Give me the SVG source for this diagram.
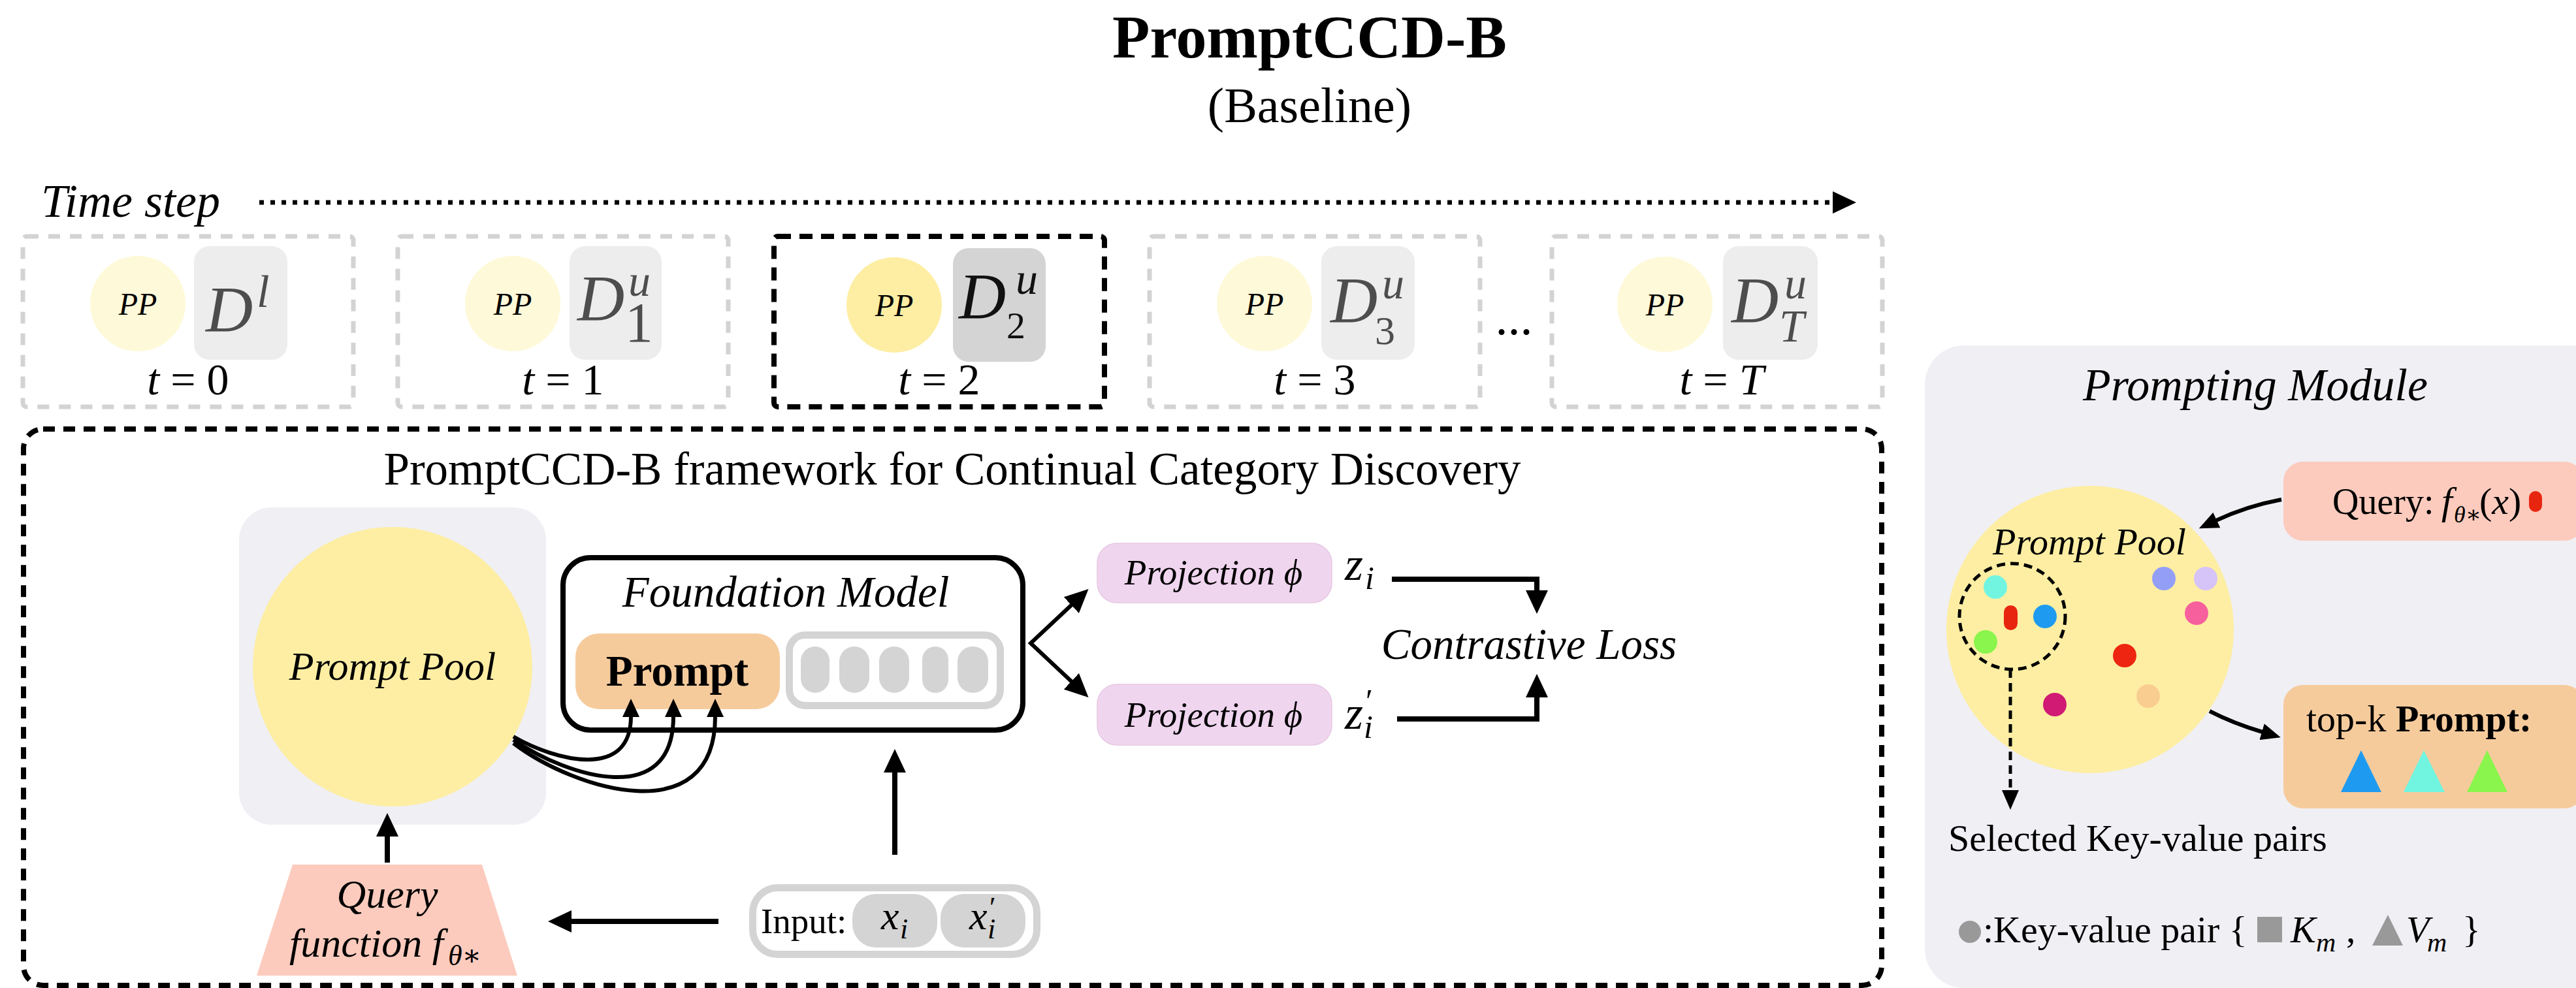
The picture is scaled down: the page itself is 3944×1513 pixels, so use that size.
<svg xmlns="http://www.w3.org/2000/svg" width="3944" height="1513" viewBox="0 0 3944 1513">
  <style>
    text { font-family: "Liberation Serif", "Times New Roman", "DejaVu Serif", serif; fill: #000; }
    .it { font-style: italic; }
    .up { font-style: normal; }
    .b { font-weight: bold; }
    .mid { text-anchor: middle; }
    .stepbox { fill: none; stroke: #d3d3d3; stroke-width: 7; stroke-dasharray: 18 15; }
    .stepbox.cur { stroke: #000; stroke-width: 8; stroke-dasharray: 20 13; }
    .pp { fill: #fef9d8; }
    .pp.cur { fill: #fdeea3; }
    .dbox { fill: #ededed; }
    .dbox.cur { fill: #d4d4d4; }
    .dsym { fill: #4d4d4d; }
    .dsym.cur { fill: #111; }
    .conn { fill: none; stroke: #000; stroke-width: 8; }
    .thin { fill: none; stroke: #000; stroke-width: 6; }
    .pill { fill: #d4d4d4; }
  </style>
  <defs>
    <marker id="ah" viewBox="0 0 36 34" markerWidth="36" markerHeight="34" refX="1" refY="17" orient="auto" markerUnits="userSpaceOnUse">
      <path d="M0,0 L36,17 L0,34 z" fill="#000"/>
    </marker>
    <marker id="ah2" viewBox="0 0 36 34" markerWidth="36" markerHeight="34" refX="1" refY="17" orient="auto-start-reverse" markerUnits="userSpaceOnUse">
      <path d="M0,0 L36,17 L0,34 z" fill="#000"/>
    </marker>
    <marker id="ahs" viewBox="0 0 28 26" markerWidth="28" markerHeight="26" refX="1" refY="13" orient="auto" markerUnits="userSpaceOnUse">
      <path d="M0,0 L28,13 L0,26 z" fill="#000"/>
    </marker>
    <marker id="ahm" viewBox="0 0 30 26" markerWidth="30" markerHeight="26" refX="1" refY="13" orient="auto" markerUnits="userSpaceOnUse">
      <path d="M0,0 L30,13 L0,26 z" fill="#000"/>
    </marker>
  </defs>

  <!-- heading -->
  <g id="heading">
    <text class="b mid" x="2005" y="88" font-size="94">PromptCCD-B</text>
    <text class="mid" x="2005" y="187" font-size="76">(Baseline)</text>
  </g>

  <!-- time axis -->
  <g id="timeline">
    <text class="it" x="63" y="332" font-size="72">Time step</text>
    <path d="M397,310 L2807,310" fill="none" stroke="#000" stroke-width="7" stroke-dasharray="7 10" marker-end="url(#ah)"/>
    <text class="mid" x="2318" y="512" font-size="76">...</text>
  </g>

  <!-- time step t=0 -->
  <g id="step0">
    <rect class="stepbox" x="35" y="362" width="506" height="261" rx="6"/>
    <circle class="pp" cx="211" cy="465" r="73"/>
    <text class="it mid" x="211" y="482" font-size="48">PP</text>
    <rect class="dbox" x="297" y="377" width="143" height="174" rx="24"/>
    <text class="it dsym" x="315" y="507" font-size="100">D<tspan x="393" y="470" font-size="70">l</tspan></text>
    <text class="mid" x="288" y="604" font-size="68"><tspan class="it">t</tspan> = 0</text>
  </g>

  <!-- time step t=1 -->
  <g id="step1">
    <rect class="stepbox" x="609" y="362" width="506" height="261" rx="6"/>
    <circle class="pp" cx="785" cy="465" r="73"/>
    <text class="it mid" x="785" y="482" font-size="48">PP</text>
    <rect class="dbox" x="872" y="377" width="141" height="174" rx="24"/>
    <text class="it dsym" x="884" y="490" font-size="100">D<tspan x="962" y="453" font-size="68">u</tspan><tspan class="up" x="957" y="523" font-size="86">1</tspan></text>
    <text class="mid" x="862" y="604" font-size="68"><tspan class="it">t</tspan> = 1</text>
  </g>

  <!-- time step t=2 (current) -->
  <g id="step2">
    <rect class="stepbox cur" x="1185" y="362" width="506" height="261" rx="6"/>
    <circle class="pp cur" cx="1369" cy="467" r="73"/>
    <text class="it mid" x="1369" y="484" font-size="48">PP</text>
    <rect class="dbox cur" x="1459" y="380" width="142" height="174" rx="24"/>
    <text class="it dsym cur" x="1468" y="487" font-size="100">D<tspan x="1555" y="450" font-size="68">u</tspan><tspan class="up" x="1541" y="518" font-size="58">2</tspan></text>
    <text class="mid" x="1438" y="604" font-size="68"><tspan class="it">t</tspan> = 2</text>
  </g>

  <!-- time step t=3 -->
  <g id="step3">
    <rect class="stepbox" x="1760" y="362" width="506" height="261" rx="6"/>
    <circle class="pp" cx="1936" cy="465" r="73"/>
    <text class="it mid" x="1936" y="482" font-size="48">PP</text>
    <rect class="dbox" x="2023" y="377" width="143" height="174" rx="24"/>
    <text class="it dsym" x="2037" y="493" font-size="100">D<tspan x="2116" y="457" font-size="68">u</tspan><tspan class="up" x="2105" y="527" font-size="62">3</tspan></text>
    <text class="mid" x="2013" y="604" font-size="68"><tspan class="it">t</tspan> = 3</text>
  </g>

  <!-- time step t=T -->
  <g id="stepT">
    <rect class="stepbox" x="2376" y="362" width="506" height="261" rx="6"/>
    <circle class="pp" cx="2549" cy="466" r="73"/>
    <text class="it mid" x="2549" y="483" font-size="48">PP</text>
    <rect class="dbox" x="2638" y="377" width="145" height="174" rx="24"/>
    <text class="it dsym" x="2651" y="493" font-size="100">D<tspan x="2732" y="457" font-size="68">u</tspan><tspan x="2724" y="523" font-size="69">T</tspan></text>
    <text class="mid" x="2636" y="604" font-size="68"><tspan class="it">t</tspan> = <tspan class="it">T</tspan></text>
  </g>

  <!-- framework frame -->
  <g id="framework">
    <rect x="36" y="657" width="2845" height="852" rx="30" fill="none" stroke="#000" stroke-width="8" stroke-dasharray="18 13"/>
    <text class="mid" x="1458" y="742" font-size="71">PromptCCD-B framework for Continual Category Discovery</text>
  </g>

  <!-- prompt pool -->
  <g id="prompt-pool">
    <rect x="366" y="777" width="470" height="486" rx="50" fill="#f0eff4"/>
    <circle cx="601" cy="1021" r="214" fill="#fdeea3"/>
    <text class="it mid" x="601" y="1041" font-size="62">Prompt Pool</text>
  </g>

  <!-- query function -->
  <g id="query-function">
    <path d="M448,1324 L738,1324 L792,1494 L393,1494 z" fill="#fccbbd"/>
    <text class="it mid" x="593" y="1390" font-size="62">Query</text>
    <text class="it" x="443" y="1465" font-size="62">function f<tspan x="686" y="1478" font-size="44">θ∗</tspan></text>
  </g>

  <!-- foundation model -->
  <g id="foundation-model">
    <rect x="862" y="854" width="704" height="264" rx="42" fill="#fff" stroke="#000" stroke-width="8"/>
    <text class="it mid" x="1203" y="929" font-size="67">Foundation Model</text>
    <rect x="881" y="970" width="313" height="116" rx="36" fill="#f6cb9c"/>
    <text class="b mid" x="1037" y="1050" font-size="67">Prompt</text>
    <rect x="1208.5" y="972.5" width="323" height="108" rx="24" fill="#fff" stroke="#d4d4d4" stroke-width="11"/>
    <rect class="pill" x="1226" y="990" width="44" height="71" rx="22"/>
    <rect class="pill" x="1285" y="990" width="46" height="71" rx="23"/>
    <rect class="pill" x="1346" y="990" width="46" height="71" rx="23"/>
    <rect class="pill" x="1412" y="990" width="40" height="71" rx="20"/>
    <rect class="pill" x="1466" y="990" width="47" height="71" rx="23"/>
  </g>

  <!-- input -->
  <g id="input">
    <rect x="1152.5" y="1359.5" width="435" height="102" rx="38" fill="#fff" stroke="#d4d4d4" stroke-width="11"/>
    <text x="1165" y="1429" font-size="55">Input:</text>
    <rect class="pill" x="1305" y="1369" width="130" height="82" rx="36"/>
    <rect class="pill" x="1440" y="1369" width="130" height="82" rx="36"/>
    <text class="it" x="1349" y="1423" font-size="62">x<tspan x="1378" y="1437" font-size="44">i</tspan></text>
    <text class="it" x="1484" y="1423" font-size="62">x<tspan class="up" x="1515" y="1404" font-size="44">′</tspan><tspan x="1512" y="1437" font-size="44">i</tspan></text>
  </g>

  <!-- projection heads -->
  <g id="projection-1">
    <rect x="1680" y="832" width="359" height="91" rx="30" fill="#f0d5ef" stroke="#e6c8e4" stroke-width="1.5"/>
    <text class="it mid" x="1858" y="895" font-size="55">Projection ϕ</text>
    <text class="it" x="2059" y="888" font-size="72">z<tspan x="2090" y="902" font-size="50">i</tspan></text>
  </g>
  <g id="projection-2">
    <rect x="1680" y="1048" width="359" height="93" rx="30" fill="#f0d5ef" stroke="#e6c8e4" stroke-width="1.5"/>
    <text class="it mid" x="1858" y="1113" font-size="55">Projection ϕ</text>
    <text class="it" x="2059" y="1116" font-size="72">z<tspan class="up" x="2091" y="1090" font-size="50">′</tspan><tspan x="2088" y="1130" font-size="50">i</tspan></text>
  </g>

  <!-- loss -->
  <g id="contrastive-loss">
    <text class="it mid" x="2341" y="1009" font-size="67">Contrastive Loss</text>
  </g>

  <!-- connectors of the framework -->
  <g id="connectors">
    <path class="conn" d="M1100,1411 L874,1411" marker-end="url(#ah)"/>
    <path class="conn" d="M593,1321 L593,1280" marker-end="url(#ah)"/>
    <path class="conn" d="M1370,1309 L1370,1182" marker-end="url(#ah)"/>
    <path class="thin" d="M786,1128 C850,1165 966,1195 966,1097" marker-end="url(#ahs)"/>
    <path class="thin" d="M786,1133 C870,1190 1031,1240 1031,1097" marker-end="url(#ahs)"/>
    <path class="thin" d="M786,1138 C880,1210 1095,1275 1095,1097" marker-end="url(#ahs)"/>
    <path class="thin" d="M1641,926 L1578,985 L1641,1044" stroke-linejoin="miter" marker-start="url(#ah2)" marker-end="url(#ah2)"/>
    <path class="conn" d="M2131,887 L2353,887 L2353,905" stroke-linejoin="miter" marker-end="url(#ah)"/>
    <path class="conn" d="M2139,1101 L2353,1101 L2353,1067" stroke-linejoin="miter" marker-end="url(#ah)"/>
  </g>

  <!-- prompting module panel -->
  <g id="prompting-module">
    <rect x="2947" y="529" width="1060" height="984" rx="60" fill="#f0eff4"/>
    <text class="it mid" x="3453" y="613" font-size="70">Prompting Module</text>

    <g id="module-pool">
      <circle cx="3200" cy="964" r="220" fill="#fdeea3"/>
      <text class="it mid" x="3199" y="849" font-size="58">Prompt Pool</text>
      <circle cx="3055" cy="899" r="18" fill="#72f5e0"/>
      <rect x="3068" y="927" width="21" height="38" rx="10.5" fill="#e8250f"/>
      <circle cx="3131" cy="944" r="18" fill="#1e9bf0"/>
      <circle cx="3040" cy="983" r="18" fill="#8af54c"/>
      <circle cx="3313" cy="886" r="18" fill="#939ff7"/>
      <circle cx="3377" cy="886" r="18" fill="#d6c3f7"/>
      <circle cx="3363" cy="939" r="18" fill="#f6609c"/>
      <circle cx="3253" cy="1004" r="18" fill="#ee2510"/>
      <circle cx="3146" cy="1079" r="18" fill="#d01a74"/>
      <circle cx="3289" cy="1066" r="18" fill="#f9cd90"/>
      <circle cx="3081" cy="944" r="81" fill="none" stroke="#000" stroke-width="5" stroke-dasharray="13 8"/>
    </g>

    <g id="module-query">
      <rect x="3496" y="707" width="460" height="121" rx="30" fill="#fccbbd"/>
      <text x="3571" y="787" font-size="56">Query:<tspan class="it" x="3738" font-size="60">f</tspan><tspan class="it" x="3757" y="800" font-size="36">θ∗</tspan><tspan x="3796" y="787" font-size="58">(</tspan><tspan class="it" font-size="58">x</tspan><tspan font-size="58">)</tspan></text>
      <rect x="3872" y="752" width="20" height="32" rx="10" fill="#e8250f"/>
    </g>

    <g id="module-topk">
      <rect x="3496" y="1049" width="460" height="189" rx="30" fill="#f6cb9c"/>
      <text x="3531" y="1120" font-size="58">top-k <tspan class="b">Prompt:</tspan></text>
      <path d="M3584,1213 L3615,1149 L3646,1213 z" fill="#1e9bf0"/>
      <path d="M3680,1213 L3711,1149 L3743,1213 z" fill="#72f5e0"/>
      <path d="M3777,1213 L3808,1149 L3839,1213 z" fill="#8af54c"/>
    </g>

    <g id="module-connectors">
      <path class="thin" d="M3493,765 Q3440,775 3393,797" marker-end="url(#ahm)"/>
      <path class="thin" d="M3383,1089 Q3420,1108 3464,1121" marker-end="url(#ahm)"/>
      <path d="M3078,1025 L3078,1211" fill="none" stroke="#000" stroke-width="5" stroke-dasharray="13 8" marker-end="url(#ahm)"/>
    </g>

    <text x="2983" y="1303" font-size="58">Selected Key-value pairs</text>

    <g id="legend">
      <circle cx="3016" cy="1427" r="17" fill="#999"/>
      <rect x="3456" y="1404" width="38" height="39" fill="#999"/>
      <path d="M3632,1448 L3656,1401 L3679,1448 z" fill="#999"/>
      <text x="3036" y="1443" font-size="58">:Key-value pair {<tspan class="it" x="3507">K</tspan><tspan class="it" x="3546" y="1457" font-size="42">m</tspan><tspan x="3592" y="1443">,</tspan><tspan class="it" x="3684">V</tspan><tspan class="it" x="3716" y="1457" font-size="42">m</tspan><tspan x="3770" y="1443">}</tspan></text>
    </g>
  </g>
</svg>
